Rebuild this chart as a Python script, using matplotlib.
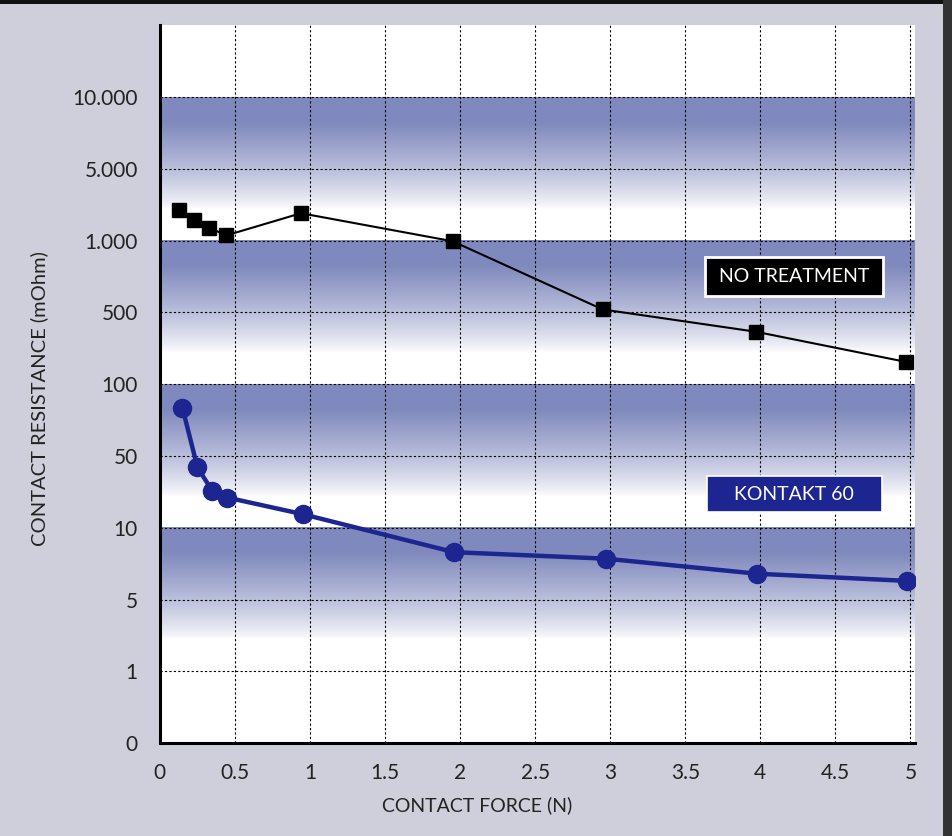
import matplotlib.pyplot as plt
import numpy as np
from matplotlib.patches import Rectangle

# contact resistance vs contact force
force_nt = [0.13, 0.23, 0.33, 0.44, 0.94, 1.95, 2.95, 3.97, 4.97]
res_nt = [2720, 2160, 1720, 1280, 2520, 995, 520, 392, 224]

force_k60 = [0.15, 0.25, 0.35, 0.45, 0.95, 1.96, 2.97, 3.98, 4.98]
res_k60 = [83.5, 43.6, 30.4, 26.8, 17.6, 8.3, 7.85, 6.8, 6.3]

# the y axis is evenly spaced by label, not by value
y_ticks = [0, 1, 5, 10, 50, 100, 500, 1000, 5000, 10000]
y_ticklabels = ["0", "1", "5", "10", "50", "100", "500", "1.000", "5.000", "10.000"]
x_ticks = [0, 0.5, 1, 1.5, 2, 2.5, 3, 3.5, 4, 4.5, 5]
x_ticklabels = ["0", "0.5", "1", "1.5", "2", "2.5", "3", "3.5", "4", "4.5", "5"]

# value -> position on the label axis (extra point so the top can go past 10.000)
scale_vals = np.array(y_ticks + [50000], dtype=float)
scale_pos = np.arange(len(scale_vals), dtype=float)


def fwd(v):
    return np.interp(v, scale_vals, scale_pos)


def inv(p):
    return np.interp(p, scale_pos, scale_vals)


plt.rcParams["font.family"] = ["Lato", "DejaVu Sans"]

bg = "#cfcfdb"
fig = plt.figure(figsize=(9.52, 8.36), dpi=100, facecolor=bg)
ax = fig.add_axes([0.168, 0.111, 0.793, 0.859])
ax.set_facecolor("white")
ax.set_yscale("function", functions=(fwd, inv))
ax.set_xlim(0, 5.03)
ax.set_ylim(0, inv(10.0))

# blue bands fading to white, one per decade
band_blue = np.array([0.46, 0.50, 0.72])
n = 200
t = np.linspace(0, 1, n)
alpha = np.clip((0.78 - t) / 0.6, 0, 1) ** 0.8 * 0.92
img = np.ones((n, 2, 4))
img[:, :, :3] = band_blue
img[:, :, 3] = alpha[:, None]
for top, bot in [(9, 7), (7, 5), (5, 3), (3, 1)]:
    ax.imshow(img, extent=(0, 1, bot / 10, top / 10), transform=ax.transAxes,
              aspect="auto", zorder=0, interpolation="bilinear")

ax.set_xticks(x_ticks)
ax.set_xticklabels(x_ticklabels)
ax.set_yticks(y_ticks)
ax.set_yticklabels(y_ticklabels)
ax.minorticks_off()
ax.tick_params(length=0, labelsize=15, colors="#222222")
ax.tick_params(axis="x", pad=14)
ax.tick_params(axis="y", pad=16)
ax.grid(True, color="black", linestyle=(0, (2, 2)), linewidth=0.8)

for side in ["top", "right"]:
    ax.spines[side].set_visible(False)
for side in ["left", "bottom"]:
    ax.spines[side].set_linewidth(2.2)

ax.plot(force_nt, res_nt, color="black", lw=1.5, marker="s", ms=10, zorder=3)
ax.plot(force_k60, res_k60, color="#1c2590", lw=3.2, marker="o", ms=13, zorder=3)

# series labels
ax.add_patch(Rectangle((0.722, 0.623), 0.236, 0.054, transform=ax.transAxes,
                       facecolor="black", edgecolor="white", lw=2, zorder=4))
ax.text(0.840, 0.650, "NO TREATMENT", transform=ax.transAxes, color="white",
        fontsize=14, ha="center", va="center", zorder=5)
ax.add_patch(Rectangle((0.724, 0.322), 0.232, 0.050, transform=ax.transAxes,
                       facecolor="#1c2590", edgecolor="white", lw=1.2, zorder=4))
ax.text(0.840, 0.347, "KONTAKT 60", transform=ax.transAxes, color="white",
        fontsize=14, ha="center", va="center", zorder=5)

ax.set_xlabel("CONTACT FORCE (N)", fontsize=14, color="#222222")
ax.set_ylabel("CONTACT RESISTANCE (mOhm)", fontsize=14.5, color="#222222")
ax.xaxis.set_label_coords(0.42, -0.074)
ax.yaxis.set_label_coords(-0.148, 0.48)

# dark scan edges
fig.patches.append(Rectangle((0, 0.995), 1, 0.005, transform=fig.transFigure,
                             facecolor="#111111", edgecolor="none"))
fig.patches.append(Rectangle((0.991, 0), 0.009, 1, transform=fig.transFigure,
                             facecolor="#333333", edgecolor="none"))

fig.savefig("out.png", dpi=100, facecolor=bg)
